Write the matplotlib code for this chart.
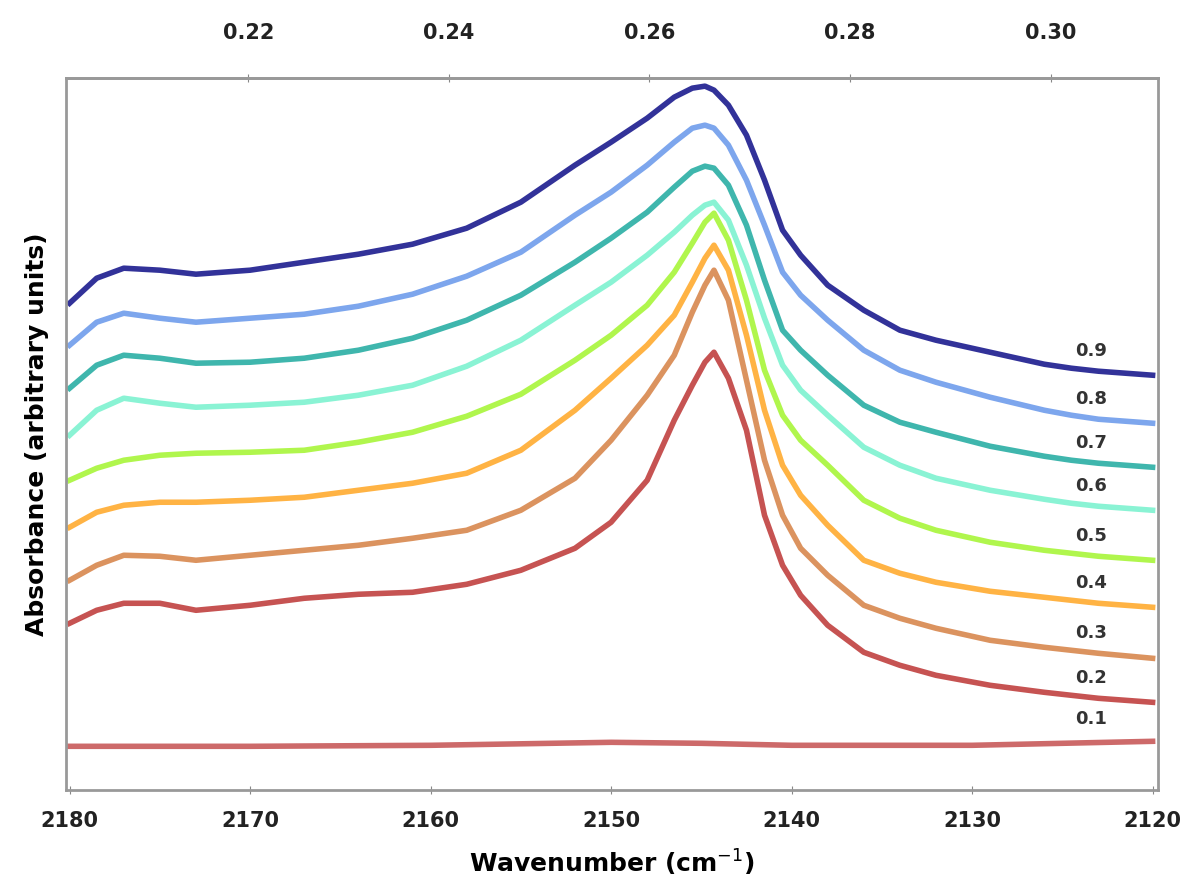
import numpy as np
import matplotlib
matplotlib.use("Agg")
import matplotlib.pyplot as plt

# wavenumber grid (cm^-1)
wn = [2180, 2178.5, 2177, 2175, 2173, 2170, 2167, 2164, 2161, 2158, 2155, 2152,
      2150, 2148, 2146.5, 2145.5, 2144.8, 2144.3, 2143.5, 2142.5, 2141.5, 2140.5,
      2139.5, 2138, 2136, 2134, 2132, 2129, 2126, 2124.5, 2123, 2120]

# stacked spectra, top to bottom (arbitrary units, offsets included)
navy = [4.87, 5.12, 5.22, 5.20, 5.16, 5.20, 5.28, 5.36, 5.46, 5.62, 5.88, 6.25,
        6.48, 6.72, 6.93, 7.02, 7.04, 7.00, 6.85, 6.55, 6.10, 5.60, 5.35, 5.05,
        4.80, 4.60, 4.50, 4.38, 4.26, 4.22, 4.19, 4.15]
lblue = [4.45, 4.68, 4.77, 4.72, 4.68, 4.72, 4.76, 4.84, 4.96, 5.14, 5.38, 5.75,
         5.98, 6.25, 6.48, 6.62, 6.65, 6.62, 6.45, 6.10, 5.65, 5.18, 4.95, 4.70,
         4.40, 4.20, 4.08, 3.93, 3.80, 3.75, 3.71, 3.67]
teal = [4.02, 4.25, 4.35, 4.32, 4.27, 4.28, 4.32, 4.40, 4.52, 4.70, 4.95, 5.28,
        5.52, 5.78, 6.03, 6.19, 6.24, 6.22, 6.05, 5.65, 5.10, 4.60, 4.40, 4.15,
        3.85, 3.68, 3.58, 3.44, 3.34, 3.30, 3.27, 3.23]
aqua = [3.55, 3.80, 3.92, 3.87, 3.83, 3.85, 3.88, 3.95, 4.05, 4.24, 4.50, 4.85,
        5.08, 5.35, 5.58, 5.75, 5.85, 5.88, 5.70, 5.25, 4.72, 4.25, 4.00, 3.75,
        3.43, 3.25, 3.12, 3.00, 2.91, 2.87, 2.84, 2.80]
green = [3.10, 3.22, 3.30, 3.35, 3.37, 3.38, 3.40, 3.48, 3.58, 3.74, 3.96, 4.30,
         4.55, 4.85, 5.18, 5.47, 5.68, 5.77, 5.50, 4.90, 4.20, 3.75, 3.50, 3.25,
         2.90, 2.72, 2.60, 2.48, 2.40, 2.37, 2.34, 2.30]
orange = [2.63, 2.78, 2.85, 2.88, 2.88, 2.90, 2.93, 3.00, 3.07, 3.17, 3.40, 3.80,
          4.12, 4.45, 4.75, 5.08, 5.32, 5.45, 5.20, 4.55, 3.80, 3.25, 2.95, 2.65,
          2.30, 2.17, 2.08, 1.99, 1.93, 1.90, 1.87, 1.83]
peru = [2.10, 2.25, 2.35, 2.34, 2.30, 2.35, 2.40, 2.45, 2.52, 2.60, 2.80, 3.12,
        3.50, 3.95, 4.35, 4.78, 5.05, 5.20, 4.90, 4.10, 3.30, 2.75, 2.42, 2.15,
        1.85, 1.72, 1.62, 1.50, 1.43, 1.40, 1.37, 1.32]
red = [1.67, 1.80, 1.87, 1.87, 1.80, 1.85, 1.92, 1.96, 1.98, 2.06, 2.20, 2.42,
       2.68, 3.10, 3.70, 4.05, 4.28, 4.38, 4.12, 3.60, 2.75, 2.25, 1.95, 1.65,
       1.38, 1.25, 1.15, 1.05, 0.98, 0.95, 0.92, 0.88]

# flat reference trace at the bottom
wn_flat = [2180, 2170, 2160, 2150, 2145, 2140, 2130, 2125, 2120]
flat = [0.44, 0.44, 0.45, 0.48, 0.47, 0.45, 0.45, 0.47, 0.49]

labels = ["0.9", "0.8", "0.7", "0.6", "0.5", "0.4", "0.3", "0.2", "0.1"]
top_ticks = [0.22, 0.24, 0.26, 0.28, 0.30]
bottom_ticks = [2180, 2170, 2160, 2150, 2140, 2130, 2120]

colors = ["#1c1c8e", "#6f9ceb", "#2aaea4", "#7df2d0", "#a8f53a",
          "#ffab30", "#d8874e", "#c0403f"]
series = [navy, lblue, teal, aqua, green, orange, peru, red]

fig = plt.figure(figsize=(12, 8.88), dpi=100)
ax = fig.add_axes([0.055, 0.11, 0.91, 0.802])

for ys, c in zip(series, colors):
    ax.plot(wn, ys, color=c, lw=4, alpha=0.9, solid_joinstyle="round")
ax.plot(wn_flat, flat, color="#c85a5a", lw=4, alpha=0.9)

# labels at the right end of each trace
for ys, lab in zip(series, labels):
    ax.text(2123.4, ys[-2] + 0.2, lab, ha="center", va="center",
            fontsize=13, fontweight="bold", color="#333333")
ax.text(2123.4, flat[-1] + 0.22, labels[-1], ha="center", va="center",
        fontsize=13, fontweight="bold", color="#333333")

ax.set_xlim(2180.2, 2119.7)
ax.set_ylim(0, 7.12)
ax.set_yticks([])
ax.set_xticks(bottom_ticks)
ax.tick_params(axis="x", labelsize=15, direction="inout", length=6, colors="#888888",
               labelcolor="#222222", pad=12)
for lbl in ax.get_xticklabels():
    lbl.set_fontweight("bold")
for s in ax.spines.values():
    s.set_color("#999999")
    s.set_linewidth(2)

ax.set_xlabel("Wavenumber (cm$^{-1}$)", fontsize=18, fontweight="bold", labelpad=12)
ax.set_ylabel("Absorbance (arbitrary units)", fontsize=18, fontweight="bold", labelpad=12)

# secondary axis on top
def fwd(x):
    return 0.22 + (2170.1 - np.asarray(x)) * 0.0018

def inv(v):
    return 2170.1 - (np.asarray(v) - 0.22) / 0.0018

top = ax.secondary_xaxis("top", functions=(fwd, inv))
top.set_xticks(top_ticks)
top.set_xticklabels([f"{t:.2f}" for t in top_ticks])
top.tick_params(labelsize=15, direction="inout", length=6, colors="#888888",
                labelcolor="#222222", pad=22)
for lbl in top.get_xticklabels():
    lbl.set_fontweight("bold")
top.spines["top"].set_color("#999999")
top.spines["top"].set_linewidth(2)

plt.savefig("out.png", dpi=100)
